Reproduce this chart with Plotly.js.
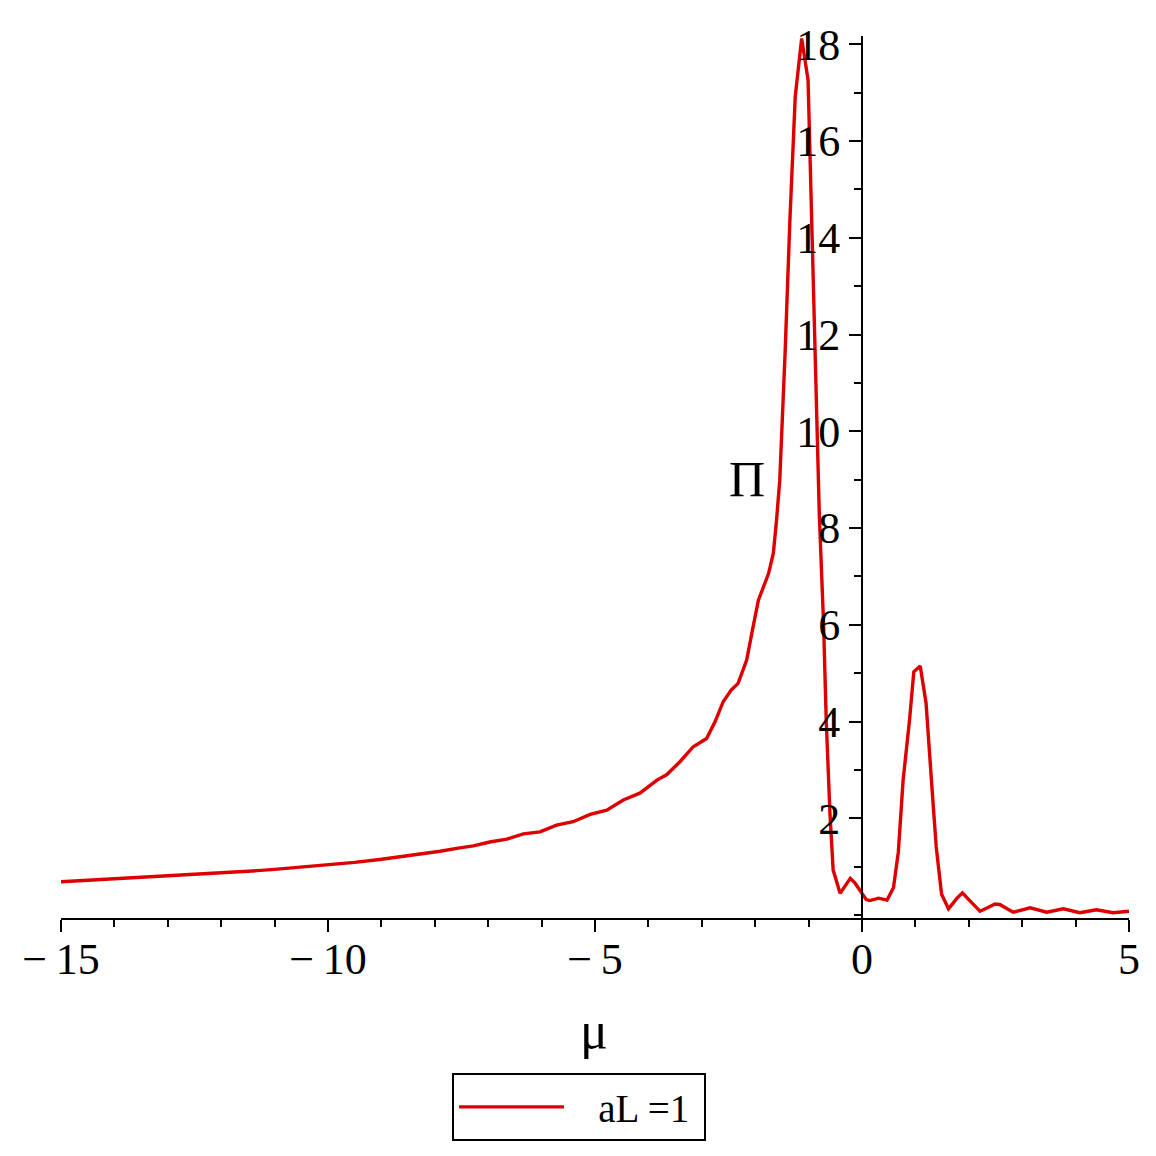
<!DOCTYPE html>
<html>
<head>
<meta charset="utf-8">
<script src="https://cdn.plot.ly/plotly-3.0.1.min.js"></script>
<style>html,body{margin:0;padding:0;background:#fff;}#chart{width:1156px;height:1156px;}</style>
</head>
<body>
<div id="chart"></div>
<script>
const mu = [-15,-14.5,-14,-13.5,-13,-12.5,-12,-11.5,-11,-10.5,-10,-9.5,-9.03,-8.53,-8.21,-7.9,-7.59,-7.28,-6.97,-6.65,-6.34,-6.03,-5.72,-5.41,-5.09,-4.78,-4.47,-4.16,-3.84,-3.66,-3.41,-3.16,-2.91,-2.75,-2.6,-2.45,-2.32,-2.16,-2.05,-1.94,-1.75,-1.66,-1.6,-1.54,-1.44,-1.35,-1.25,-1.13,-1.01,-0.94,-0.88,-0.8,-0.72,-0.67,-0.6,-0.54,-0.41,-0.22,-0.13,0,0.08,0.15,0.31,0.47,0.59,0.68,0.77,0.89,0.97,1.09,1.2,1.3,1.39,1.49,1.62,1.78,1.88,2,2.12,2.21,2.35,2.49,2.58,2.83,3.15,3.46,3.77,4.08,4.39,4.7,5];
const piVals = [0.69,0.72,0.745,0.775,0.8,0.835,0.87,0.905,0.945,0.99,1.04,1.09,1.15,1.22,1.28,1.32,1.38,1.43,1.51,1.57,1.68,1.72,1.86,1.93,2.08,2.17,2.38,2.52,2.79,2.9,3.17,3.48,3.65,4.0,4.41,4.65,4.79,5.27,5.9,6.51,7.06,7.48,8.17,8.99,11.62,14.37,16.92,18.12,17.26,14.23,11.62,8.3,6.03,4.03,2.1,0.93,0.45,0.76,0.66,0.45,0.32,0.3,0.35,0.31,0.57,1.3,2.79,4.03,5.03,5.15,4.38,2.79,1.41,0.43,0.13,0.35,0.46,0.32,0.17,0.08,0.15,0.23,0.22,0.06,0.15,0.06,0.13,0.05,0.11,0.05,0.08];
const xTicks = [-15,-10,-5,0,5];
const yTicks = [2,4,6,8,10,12,14,16,18];
const seriesName = 'aL =1';

const serif = 'Liberation Serif, Times New Roman, serif';
const nb = '\u00A0';
const trace = {
  x: mu, y: piVals, type: 'scatter', mode: 'lines',
  name: nb + nb + nb + seriesName + nb,
  line: {color: 'rgb(222,0,0)', width: 3.4}
};
const layout = {
  width: 1156, height: 1156,
  margin: {l: 61, r: 27, t: 36, b: 238},
  paper_bgcolor: '#fff', plot_bgcolor: '#fff',
  font: {family: serif, color: '#000', size: 42},
  showlegend: true,
  legend: {
    x: (452 - 61) / 1068, xanchor: 'left', y: (918 - 1073) / 882, yanchor: 'top',
    bordercolor: '#000', borderwidth: 2, bgcolor: '#fff',
    font: {family: serif, size: 39, color: '#000'},
    itemwidth: 105
  },
  xaxis: {
    range: [-15, 5], showgrid: false, zeroline: false,
    showline: true, linecolor: '#000', linewidth: 2,
    ticks: 'outside', ticklen: 12, tickwidth: 2, tickcolor: '#000',
    tickvals: xTicks, ticktext: xTicks.map(v => v < 0 ? '\u2212\u2009' + Math.abs(v) : String(v)),
    tickfont: {family: serif, size: 44, color: '#000'},
    ticklabelstandoff: -11,
    minor: {dtick: 1, ticks: 'outside', ticklen: 7, tickwidth: 2, tickcolor: '#000', showgrid: false},
    fixedrange: true
  },
  yaxis: {
    range: [-0.06, 18.17], showgrid: false, zeroline: false,
    anchor: 'free', position: 0.75, side: 'left',
    showline: true, linecolor: '#000', linewidth: 2,
    ticks: 'outside', ticklen: 12, tickwidth: 2, tickcolor: '#000',
    tickvals: yTicks, ticktext: yTicks.map(String),
    tickfont: {family: serif, size: 44, color: '#000'},
    minor: {dtick: 1, ticks: 'outside', ticklen: 7, tickwidth: 2, tickcolor: '#000', showgrid: false},
    fixedrange: true
  },
  annotations: [
    {text: '\u03A0', xref: 'paper', yref: 'paper', x: (746.7 - 61) / 1068, y: (918 - 479) / 882,
     xanchor: 'center', yanchor: 'middle', showarrow: false, font: {family: serif, size: 50, color: '#000'}},
    {text: '\u03BC', xref: 'paper', yref: 'paper', x: (594 - 61) / 1068, y: (918 - 1030) / 882,
     xanchor: 'center', yanchor: 'middle', showarrow: false, font: {family: serif, size: 52, color: '#000'}}
  ]
};
Plotly.newPlot('chart', [trace], layout, {displayModeBar: false, staticPlot: true});
</script>
</body>
</html>
